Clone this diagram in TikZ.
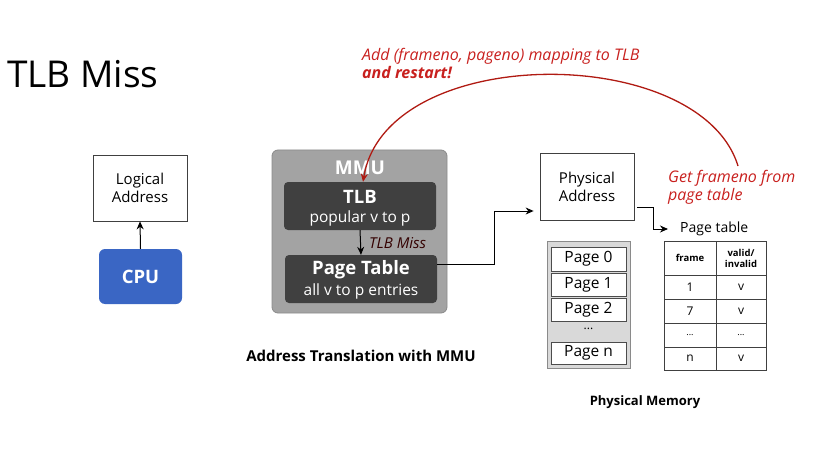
\documentclass[tikz,border=0pt]{standalone}
\usepackage{fontspec}
\setmainfont{Open Sans}
\usetikzlibrary{arrows.meta}
\definecolor{cpublue}{HTML}{3A66C4}
\definecolor{mmugray}{HTML}{A3A3A3}
\definecolor{mmuedge}{HTML}{8A8A8A}
\definecolor{darkbox}{HTML}{404040}
\definecolor{memgray}{HTML}{D9D9D9}
\definecolor{redtxt}{HTML}{C8201E}
\definecolor{redarc}{HTML}{B01A12}
\begin{document}
\begin{tikzpicture}[x=1pt,y=-1pt,
  plainbox/.style={draw=black!75,line width=0.8pt,fill=white,minimum width=94pt,minimum height=66pt,inner sep=0pt,align=center,font=\fontsize{15}{18}\selectfont},
  cpubox/.style={fill=cpublue,rounded corners=6pt,minimum width=83pt,minimum height=55pt,text=white,font=\fontsize{18.5}{20}\selectfont\bfseries},
  mmubox/.style={fill=mmugray,draw=mmuedge,line width=0.8pt,rounded corners=6pt,minimum width=175pt,minimum height=163pt},
  darkbx/.style={fill=darkbox,rounded corners=4pt,minimum width=152pt,minimum height=48pt,inner sep=0pt},
  boxtitle/.style={text=white,inner sep=0pt,font=\fontsize{18.5}{22}\selectfont\bfseries},
  boxsub/.style={text=white,inner sep=0pt,font=\fontsize{15.5}{18}\selectfont},
  membox/.style={fill=memgray,draw=mmuedge,line width=0.8pt,minimum width=83pt,minimum height=127pt},
  pagebox/.style={fill=white,draw=black!70,line width=0.7pt,minimum width=75pt,minimum height=23pt,inner sep=0pt,font=\fontsize{15.5}{17}\selectfont},
  cell/.style={draw=black!75,line width=0.7pt,inner sep=0pt,align=center,font=\fontsize{12}{13}\selectfont},
  arr/.style={-{Stealth[length=8pt,width=7pt]},line width=1pt,black},
  redtext/.style={text=redtxt,font=\fontsize{16}{18.5}\selectfont\itshape,align=left,inner sep=0pt}
]
\useasboundingbox (0,0) rectangle (818,449);

% title
\node[anchor=west,inner sep=0pt,font=\fontsize{37}{40}\selectfont] (title) at (7,74) {TLB Miss};

% left
\node[plainbox] (logical) at (140,188) {Logical\\Address};
\node[cpubox] (cpu) at (140.5,276.5) {CPU};
\draw[arr] (cpu.north) -- (logical.south);

% MMU
\node[mmubox] (mmu) at (359.5,231.5) {};
\node[text=white,font=\fontsize{19}{20}\selectfont\bfseries,inner sep=0pt] (mmulabel) at (360,168) {MMU};
\node[darkbx] (tlb) at (360,206) {};
\node[boxtitle] (tlbtitle) at (360,197) {TLB};
\node[boxsub] (tlbsub) at (360,218) {popular v to p};
\node[darkbx] (pt) at (361,279) {};
\node[boxtitle] (pttitle) at (361,270) {Page Table};
\node[boxsub] (ptsub) at (361,291) {all v to p entries};
\draw[arr] (tlb.south) -- (pt.north);
\node[anchor=west,inner sep=0pt,text=black!80!red,font=\fontsize{15}{17}\selectfont\itshape] (tlbmiss) at (369,243) {TLB Miss};

\node[font=\fontsize{15}{17}\selectfont\bfseries,inner sep=0pt] (caption1) at (361,356) {Address Translation with MMU};

% physical address
\node[plainbox,minimum height=67pt] (phys) at (587,186.5) {Physical\\Address};
\draw[arr] ([shift={(0,-15)}]pt.east) -| ([shift={(-45,24.5)}]phys.west) -- ([shift={(-6,24.5)}]phys.west);

% physical memory
\node[membox] (mem) at (588.5,304.5) {};
\node[pagebox,minimum height=24pt] (p0) at (588.5,259) {Page 0};
\node[pagebox] (p1) at (588.5,284.5) {Page 1};
\node[pagebox] (p2) at (588.5,309.5) {Page 2};
\node[inner sep=0pt,font=\fontsize{12}{13}\selectfont] (pdots) at (588.5,329) {...};
\node[pagebox,minimum height=22pt] (pn) at (588.5,353) {Page n};
\node[font=\fontsize{13}{15}\selectfont\bfseries,inner sep=0pt] (caption2) at (645,402) {Physical Memory};

% page table label and table
\node[anchor=west,inner sep=0pt,font=\fontsize{14}{15}\selectfont] (ptlabel) at (680,229) {Page table};
\draw[arr] ([shift={(3,-13)}]phys.south east) -- ++(16,0) |- ([xshift=-12pt]ptlabel.west);

\node[cell,minimum width=52pt,minimum height=34pt,font=\fontsize{9.5}{11}\selectfont\bfseries] (h1) at (690,258) {frame};
\node[cell,minimum width=50pt,minimum height=34pt,font=\fontsize{9.5}{11}\selectfont\bfseries] (h2) at (741,258) {valid/\\invalid};
\node[cell,minimum width=52pt,minimum height=24pt] (a1) at (690,287) {1};
\node[cell,minimum width=50pt,minimum height=24pt] (a2) at (741,287) {v};
\node[cell,minimum width=52pt,minimum height=24pt] (b1) at (690,311) {7};
\node[cell,minimum width=50pt,minimum height=24pt] (b2) at (741,311) {v};
\node[cell,minimum width=52pt,minimum height=24pt,font=\fontsize{9}{10}\selectfont] (c1) at (690,335) {...};
\node[cell,minimum width=50pt,minimum height=24pt,font=\fontsize{9}{10}\selectfont] (c2) at (741,335) {...};
\node[cell,minimum width=52pt,minimum height=23pt] (d1) at (690,358.5) {n};
\node[cell,minimum width=50pt,minimum height=23pt] (d2) at (741,358.5) {v};

% red annotations
\node[redtext,anchor=north west] (addtxt) at (362,48) {Add (frameno, pageno) mapping to TLB\\\bfseries and restart!};
\node[redtext,anchor=north west] (gettxt) at (668,170) {Get frameno from\\page table};
\coordinate (arcstart) at (738,166);
\draw[redarc,line width=1.3pt,-{Stealth[length=8pt,width=7pt]}] (arcstart) .. controls (700,42) and (386,42) .. ([xshift=3pt]tlb.north);
\end{tikzpicture}
\end{document}
